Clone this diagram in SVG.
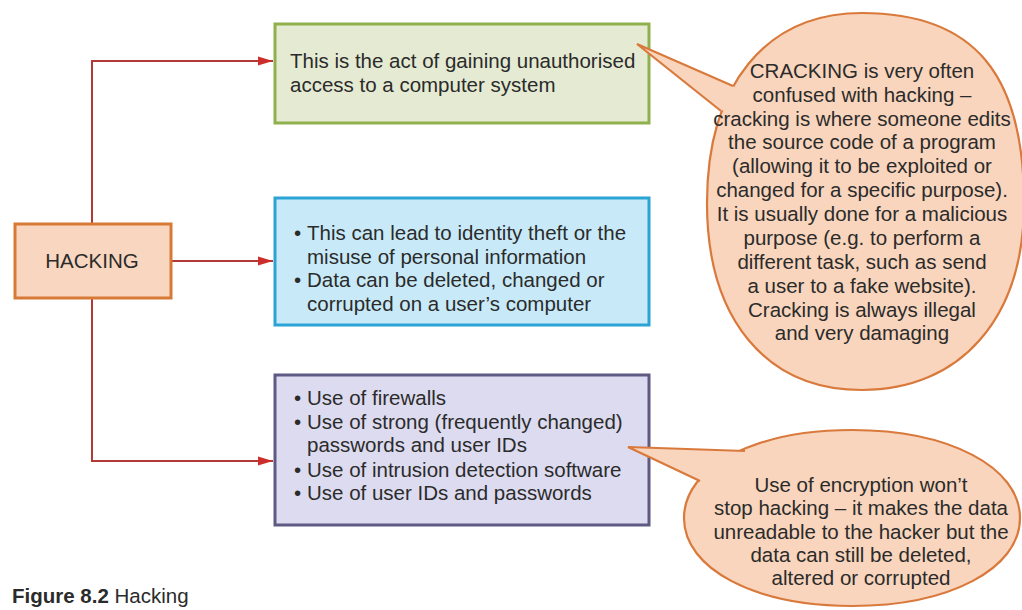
<svg xmlns="http://www.w3.org/2000/svg" width="1022" height="610" viewBox="0 0 1022 610">
<style>
text{font-family:"Liberation Sans",Arial,sans-serif;font-size:20.5px;fill:#2b2b2b}
.c{text-anchor:middle}
.conn{fill:none;stroke:#b23a36;stroke-width:2}
.call{fill:#f8d5bc;stroke:#d9793c;stroke-width:2.2}
.tailfill{fill:#f8d5bc;stroke:none}
.tailline{fill:none;stroke:#d9793c;stroke-width:2.2;stroke-linejoin:miter}
</style>
<defs>
<marker id="arr" markerWidth="15" markerHeight="10" refX="15" refY="5" orient="auto" markerUnits="userSpaceOnUse">
<path d="M0,0.5 L15,5 L0,9.5 Z" fill="#cc2f2b"/>
</marker>
</defs>
<rect width="1022" height="610" fill="#ffffff"/>

<g id="connectors">
<path class="conn" d="M92,223 V61 H273" marker-end="url(#arr)"/>
<path class="conn" d="M172,261 H273" marker-end="url(#arr)"/>
<path class="conn" d="M92,299 V461 H273" marker-end="url(#arr)"/>
</g>

<g id="hacking">
<rect x="15" y="224" width="156" height="74" fill="#f9d6bf" stroke="#d77a36" stroke-width="3"/>
<text class="c" x="92" y="268">HACKING</text>
</g>

<g id="definition">
<rect x="275" y="24" width="374" height="99" fill="#e5ead2" stroke="#8fb04c" stroke-width="3"/>
<text x="290" y="68">This is the act of gaining unauthorised</text>
<text x="290" y="92">access to a computer system</text>
</g>

<g id="effects">
<rect x="275" y="198" width="374" height="127" fill="#c8eaf8" stroke="#2ba3d4" stroke-width="3"/>
<text x="294" y="240">•</text><text x="307" y="240">This can lead to identity theft or the</text>
<text x="307" y="263.5">misuse of personal information</text>
<text x="294" y="287">•</text><text x="307" y="287">Data can be deleted, changed or</text>
<text x="307" y="310.5">corrupted on a user’s computer</text>
</g>

<g id="prevention">
<rect x="275" y="375" width="374" height="150" fill="#dddbf0" stroke="#5e5a83" stroke-width="3"/>
<text x="294" y="405">•</text><text x="307" y="405">Use of firewalls</text>
<text x="294" y="428.5">•</text><text x="307" y="428.5">Use of strong (frequently changed)</text>
<text x="307" y="452">passwords and user IDs</text>
<text x="294" y="476.5">•</text><text x="307" y="476.5">Use of intrusion detection software</text>
<text x="294" y="500">•</text><text x="307" y="500">Use of user IDs and passwords</text>
</g>

<g id="cracking-callout">
<path class="call" d="M862,13 C975,13 1024,75 1024,203 C1024,319 960,390 862,390 C766,390 707,319 707,203 C707,85 766,13 862,13 Z"/>
<polygon class="tailfill" points="637,44 733,86 745,100 721,111"/>
<polyline class="tailline" points="733,86 637,44 721,111"/>
<text class="c" x="862" y="78">CRACKING is very often</text>
<text class="c" x="862" y="102">confused with hacking –</text>
<text class="c" x="862" y="125.5">cracking is where someone edits</text>
<text class="c" x="862" y="149">the source code of a program</text>
<text class="c" x="862" y="173">(allowing it to be exploited or</text>
<text class="c" x="862" y="197">changed for a specific purpose).</text>
<text class="c" x="862" y="221">It is usually done for a malicious</text>
<text class="c" x="862" y="245">purpose (e.g. to perform a</text>
<text class="c" x="862" y="268.5">different task, such as send</text>
<text class="c" x="862" y="292.5">a user to a fake website).</text>
<text class="c" x="862" y="316.5">Cracking is always illegal</text>
<text class="c" x="862" y="340">and very damaging</text>
</g>

<g id="encryption-callout">
<path class="call" d="M852,430 C949,430 1020,467 1020,518 C1020,569 949,606 852,606 C755,606 684,569 684,518 C684,467 755,430 852,430 Z"/>
<polygon class="tailfill" points="628,447 745,451 740,470 700,481"/>
<polyline class="tailline" points="745,451 628,447 700,481"/>
<text class="c" x="861" y="492">Use of encryption won’t</text>
<text class="c" x="861" y="515">stop hacking – it makes the data</text>
<text class="c" x="861" y="538.5">unreadable to the hacker but the</text>
<text class="c" x="861" y="562">data can still be deleted,</text>
<text class="c" x="861" y="585">altered or corrupted</text>
</g>

<g id="caption">
<text x="12" y="603"><tspan font-weight="bold">Figure 8.2</tspan> Hacking</text>
</g>
</svg>
